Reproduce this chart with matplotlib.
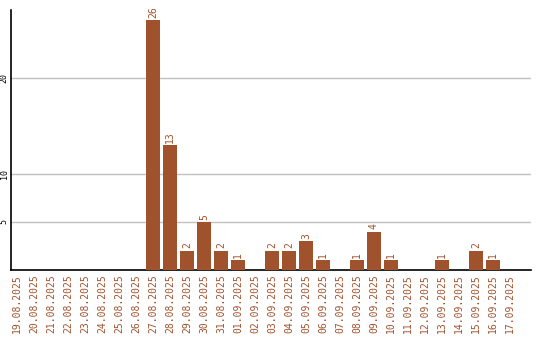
import matplotlib
matplotlib.use("Agg")
import matplotlib.pyplot as plt

dates = ["19.08.2025", "20.08.2025", "21.08.2025", "22.08.2025", "23.08.2025",
         "24.08.2025", "25.08.2025", "26.08.2025", "27.08.2025", "28.08.2025",
         "29.08.2025", "30.08.2025", "31.08.2025", "01.09.2025", "02.09.2025",
         "03.09.2025", "04.09.2025", "05.09.2025", "06.09.2025", "07.09.2025",
         "08.09.2025", "09.09.2025", "10.09.2025", "11.09.2025", "12.09.2025",
         "13.09.2025", "14.09.2025", "15.09.2025", "16.09.2025", "17.09.2025"]
values = [0, 0, 0, 0, 0, 0, 0, 0, 26, 13, 2, 5, 2, 1, 0,
          2, 2, 3, 1, 0, 1, 4, 1, 0, 0, 1, 0, 2, 1, 0]
yticks = [5, 10, 20]

color = "#A0522D"
plt.rcParams['font.family'] = ['DejaVu Sans Mono']

fig = plt.figure(figsize=(5.4, 3.4), dpi=100)
ax = fig.add_axes([10.5/540, 1 - 270/340, (531-10.5)/540, 260/340])

x = list(range(len(values)))
ax.bar(x, values, width=0.82, color=color, zorder=3)
for xi, v in zip(x, values):
    if v > 0:
        ax.text(xi, v + 0.25, str(v), rotation=90, ha="center", va="bottom",
                color=color, fontsize=7, zorder=4)

ax.set_xlim(-0.38, 30.24)
ax.set_ylim(0, 27.08)
ax.set_yticks(yticks)
ax.set_yticklabels([str(t) for t in yticks], rotation=90, va="center",
                   ha="center", fontsize=6)
ax.set_xticks(x)
ax.set_xticklabels(dates, rotation=90, color=color, fontsize=7, va="top")
ax.tick_params(axis="both", length=0)
ax.tick_params(axis="x", pad=3)
ax.tick_params(axis="y", pad=4.5)
ax.yaxis.grid(True, color="#c0c0c0", linewidth=1, zorder=0)
for s in ["top", "right"]:
    ax.spines[s].set_visible(False)
for s in ["left", "bottom"]:
    ax.spines[s].set_color("black")
    ax.spines[s].set_linewidth(1.2)

fig.savefig("out.png", dpi=100)
